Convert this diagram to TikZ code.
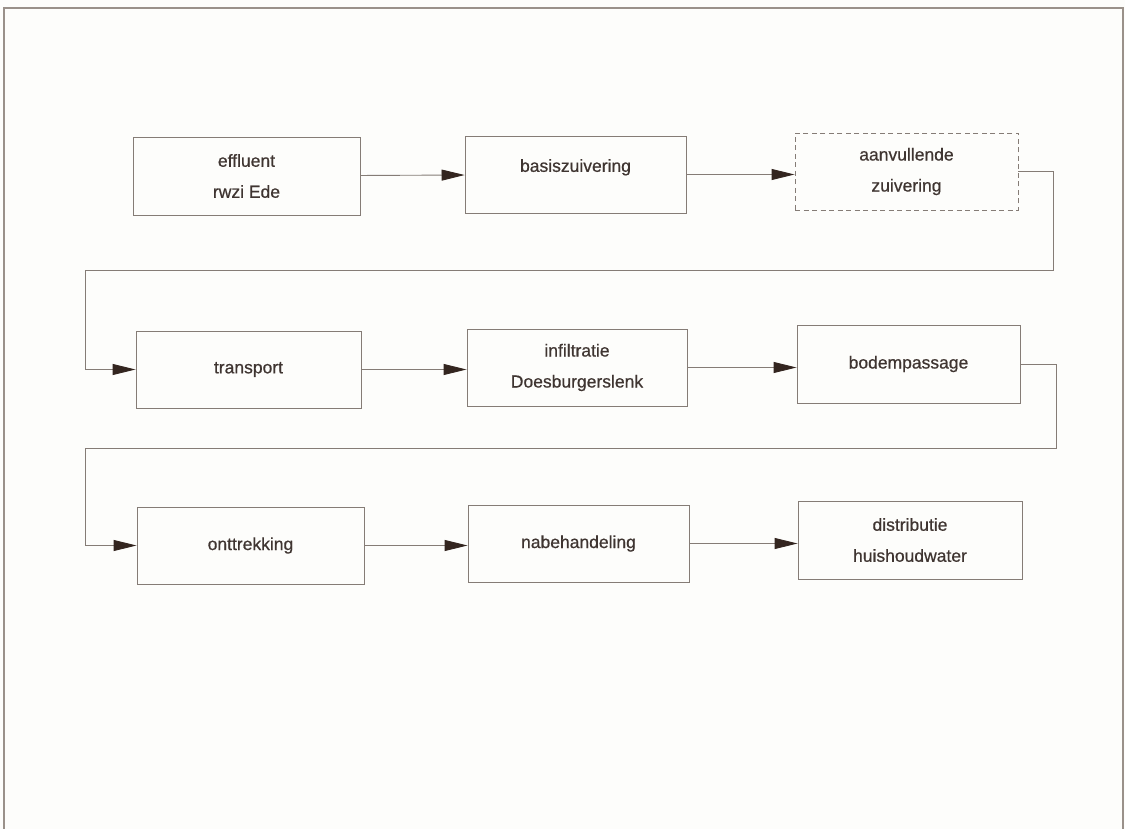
\documentclass[tikz,border=0pt]{standalone}
\usepackage{fontspec}
\setmainfont{Liberation Sans}
\newfontfamily\boxfont[FakeBold=0.6]{Liberation Sans}
\usetikzlibrary{arrows.meta}
\definecolor{linec}{HTML}{857C76}
\definecolor{framec}{HTML}{9A918A}
\definecolor{textc}{HTML}{3F3531}
\definecolor{headc}{HTML}{33251F}
\definecolor{bgc}{HTML}{FDFDFB}
\begin{document}
\begin{tikzpicture}[x=1pt,y=-1pt,
  box/.style={draw=linec,line width=0.9pt,minimum width=224pt,minimum height=77pt,
    inner sep=0pt,align=center,text=textc,font=\boxfont\fontsize{17.5}{31}\selectfont},
  dbox/.style={box,dash pattern=on 5pt off 3.5pt},
  flow/.style={draw=linec,line width=0.9pt,-{Triangle[length=23pt,width=11pt,fill=headc,color=headc]}}
]
\useasboundingbox (0,0) rectangle (1125,829);
\fill[bgc] (0,0) rectangle (1125,829);
% frame
\draw[framec,line width=1.3pt] (4,829) -- (4,8) -- (1123,8) -- (1123,829);
% row 1
\node[box,minimum width=227pt,minimum height=78pt] (effl) at (246.5,176) {effluent\\rwzi Ede};
\node[box,minimum width=221pt,text depth=18pt] (basis) at (575.5,174.5) {basiszuivering};
\node[dbox,minimum width=223pt] (aanv) at (906.5,171.5) {aanvullende\\zuivering};
% row 2
\node[box,minimum width=225pt] (trans) at (248.5,369.5) {transport};
\node[box,minimum width=220pt] (infil) at (577,367.5) {infiltratie\\Doesburgerslenk};
\node[box,minimum width=223pt,minimum height=78pt] (bodem) at (908.5,364) {bodempassage};
% row 3
\node[box,minimum width=227pt] (ontt) at (250.5,545.5) {onttrekking};
\node[box,minimum width=221pt] (nabeh) at (578.5,543.5) {nabehandeling};
\node[box,minimum width=224pt,minimum height=78pt] (distr) at (910,540) {distributie\\huishoudwater};
% turn points
\coordinate (r1) at (1053,270);
\coordinate (l1) at (85,270);
\coordinate (r2) at (1056,448);
\coordinate (l2) at (85,448);
% connectors
\draw[flow] (effl) -- (basis);
\draw[flow] (basis.east) -- (aanv.west |- basis.east);
\draw[flow] (aanv.east) -| (r1) -- (l1) |- (trans.west);
\draw[flow] (trans.east) -- (infil.west |- trans.east);
\draw[flow] (infil.east) -- (bodem.west |- infil.east);
\draw[flow] (bodem.east) -| (r2) -- (l2) |- (ontt.west);
\draw[flow] (ontt.east) -- (nabeh.west |- ontt.east);
\draw[flow] (nabeh.east) -- (distr.west |- nabeh.east);
\end{tikzpicture}
\end{document}
